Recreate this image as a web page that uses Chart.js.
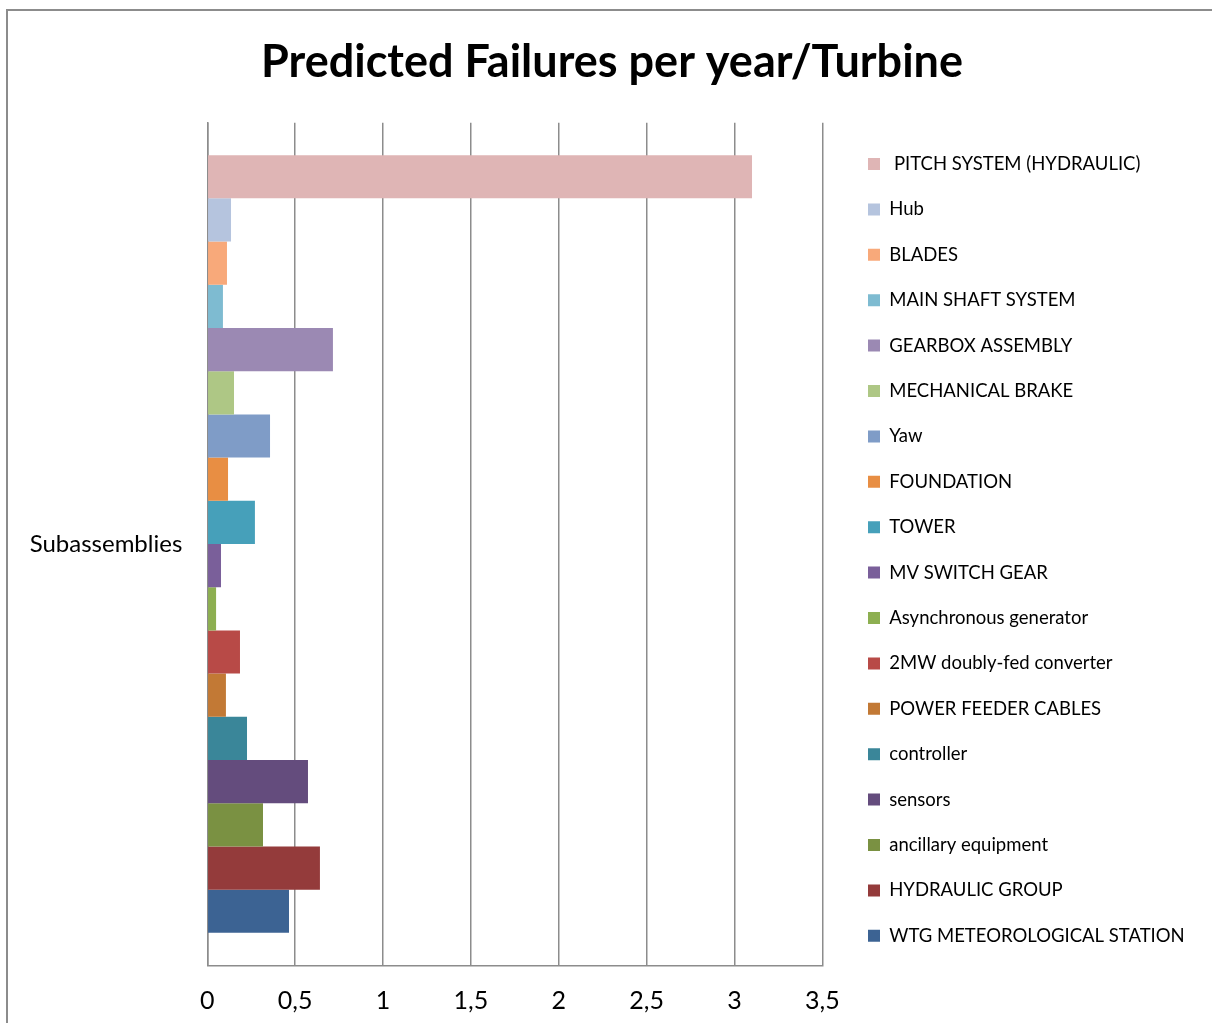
<!DOCTYPE html>
<html>
<head>
<meta charset="utf-8">
<title>Predicted Failures per year/Turbine</title>
<script src="https://cdn.jsdelivr.net/npm/chart.js@4.4.1/dist/chart.umd.min.js"></script>
<style>
  html, body { margin: 0; padding: 0; background: #fff; overflow: hidden; }
  #frame { position: absolute; left: 6px; top: 9px; width: 1240px; height: 1100px; border: 2px solid #8c8c8c; }
  #chart { position: absolute; left: 0; top: 0; }
</style>
</head>
<body>
<div id="frame"></div>
<canvas id="chart"></canvas>
<script>
var categories = ['Subassemblies'];

var seriesNames = [
  ' PITCH SYSTEM (HYDRAULIC)', 'Hub', 'BLADES', 'MAIN SHAFT SYSTEM',
  'GEARBOX ASSEMBLY', 'MECHANICAL BRAKE', 'Yaw', 'FOUNDATION', 'TOWER',
  'MV SWITCH GEAR', 'Asynchronous generator', '2MW doubly-fed converter',
  'POWER FEEDER CABLES', 'controller', 'sensors', 'ancillary equipment',
  'HYDRAULIC GROUP', 'WTG METEOROLOGICAL STATION'
];

var seriesValues = [
  3.10, 0.135, 0.112, 0.089,
  0.715, 0.152, 0.357, 0.118, 0.271,
  0.078, 0.05, 0.186,
  0.106, 0.226, 0.573, 0.317,
  0.641, 0.465
];

var xTickLabels = ['0', '0,5', '1', '1,5', '2', '2,5', '3', '3,5'];

var seriesColors = [
  '#dfb5b5', '#b5c4de', '#f8a97a', '#7ebbd1',
  '#9b89b3', '#aec785', '#7f9cc7', '#e88e43', '#46a0ba',
  '#7a5f9a', '#8daf51', '#b84a47',
  '#c27935', '#3a8699', '#644c7d', '#7a9142',
  '#943b3b', '#3c6393'
];

var datasets = [];
for (var i = 0; i < seriesNames.length; i++) {
  datasets.push({
    label: seriesNames[i],
    data: [seriesValues[i]],
    backgroundColor: seriesColors[i],
    borderWidth: 0,
    categoryPercentage: 0.923,
    barPercentage: 1
  });
}

// target geometry (px)
var H = 1023;
var plotLeft = 207.3, plotRight = 822.3, plotTop = 122.7, plotBottom = 965.3;
var legendX = 868, titleCenter = 612;

var lineGray = '#8c8c8c';
var legendSize = 18.5, legendBox = 12;
var legendPad = 45.4 - legendSize;

// legend width as Chart.js will size it, so the plot lands where it should
var mctx = document.createElement('canvas').getContext('2d');
mctx.font = 'normal ' + legendSize + 'px Lato';
var maxText = 0;
seriesNames.forEach(function (n) { maxText = Math.max(maxText, mctx.measureText(n).width); });
var legendW = legendPad + legendBox + legendSize / 2 + maxText + 10;
var gapW = legendX - plotRight - legendPad;
var rightEdge = plotRight + gapW + legendW;
var W = Math.max(1212, Math.ceil(rightEdge));
var padRight = W - rightEdge;
var padLeft = Math.max(0, 2 * titleCenter - rightEdge);

var cv = document.getElementById('chart');
cv.width = W;
cv.height = H;

new Chart(cv, {
  type: 'bar',
  data: {
    labels: categories,
    datasets: datasets
  },
  options: {
    indexAxis: 'y',
    responsive: false,
    animation: false,
    layout: {
      padding: { left: padLeft, right: padRight, top: 0, bottom: 0 }
    },
    plugins: {
      tooltip: { enabled: false },
      title: {
        display: true,
        text: 'Predicted Failures per year/Turbine',
        color: '#000',
        font: { family: 'Lato', size: 45, weight: 'bold' },
        padding: { top: 35, bottom: plotTop - 35 - 54 }
      },
      legend: {
        position: 'right',
        align: 'center',
        maxWidth: legendW,
        title: { display: true, text: '', font: { size: 10, lineHeight: 1 }, padding: { top: 33.4, bottom: 33.4 } },
        labels: {
          boxWidth: legendBox,
          boxHeight: legendBox,
          padding: legendPad,
          color: '#000',
          font: { family: 'Lato', size: legendSize }
        }
      }
    },
    scales: {
      x: {
        type: 'linear',
        position: 'bottom',
        min: 0,
        max: 3.5,
        ticks: {
          stepSize: 0.5,
          color: '#000',
          font: { family: 'Lato', size: 25 },
          padding: 21,
          callback: function (v, idx) { return xTickLabels[idx]; }
        },
        grid: { color: lineGray, lineWidth: 1.5, drawTicks: false },
        border: { color: lineGray, width: 1.5 },
        afterFit: function (s) { s.height = H - plotBottom; }
      },
      y: {
        type: 'category',
        grid: { display: false, drawTicks: false },
        border: { color: lineGray, width: 1.5 },
        ticks: { color: '#000', font: { family: 'Lato', size: 24 }, padding: 25 },
        afterFit: function (s) { s.width = plotLeft - padLeft; }
      },
      gap: {
        type: 'linear',
        position: 'right',
        ticks: { display: false },
        grid: { display: false },
        border: { display: false },
        afterFit: function (s) { s.width = gapW; }
      }
    }
  }
});
</script>
</body>
</html>
